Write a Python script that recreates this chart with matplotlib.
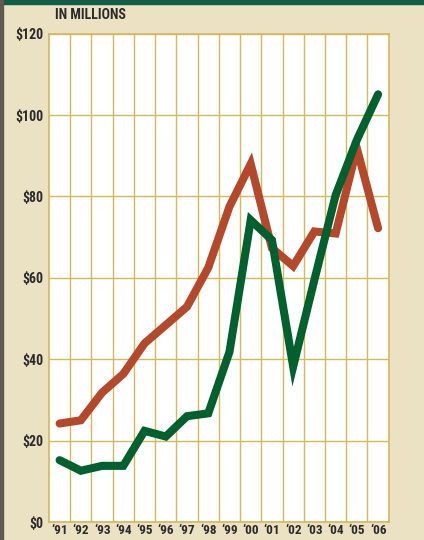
import matplotlib
matplotlib.use("Agg")
import matplotlib.pyplot as plt
import numpy as np

# data
years = ["\u201891", "\u201892", "\u201893", "\u201894", "\u201895", "\u201896", "\u201897", "\u201898",
         "\u201899", "\u201800", "\u201801", "\u201802", "\u201803", "\u201804", "\u201805", "\u201806"]
orange_vals = [24.2, 25.0, 31.8, 36.4, 43.9, 48.4, 52.9, 62.5,
               77.5, 88.0, 67.3, 62.9, 71.4, 70.9, 91.8, 72.2]
green_vals = [15.2, 12.6, 13.8, 13.8, 22.4, 21.0, 26.0, 26.7,
              41.8, 74.2, 69.3, 38.2, 59.5, 80.3, 93.9, 105.1]
y_ticks = [0, 20, 40, 60, 80, 100, 120]
y_labels = ["$0", "$20", "$40", "$60", "$80", "$100", "$120"]

fam = ["Roboto Condensed", "Liberation Sans", "DejaVu Sans"]
bg = "#ebe1c3"
gold = "#d6b85a"
txt = "#2b2b2b"

fig = plt.figure(figsize=(4.24, 5.40), dpi=100, facecolor=bg)
ax = fig.add_axes([49 / 424, 18 / 540, (388.7 - 49) / 424, (522 - 33.7) / 540])
ax.set_facecolor("white")

x = np.arange(len(years))
ax.plot(x, orange_vals, color="#b5482a", lw=5.8, solid_capstyle="round",
        solid_joinstyle="miter", zorder=3)
ax.plot(x, green_vals, color="#00602e", lw=5.8, solid_capstyle="round",
        solid_joinstyle="miter", zorder=4)

ax.set_xlim(-0.5, len(years) - 0.5)
ax.set_ylim(0, 120)
ax.set_yticks(y_ticks)
ax.set_yticklabels(y_labels)
ax.set_xticks(x)
ax.set_xticklabels(years)
ax.set_xticks(np.arange(0.5, len(years) - 1, 1), minor=True)

ax.grid(True, axis="x", which="minor", color=gold, lw=1.0, zorder=1)
ax.grid(True, axis="y", which="major", color=gold, lw=1.0, zorder=1)
ax.tick_params(axis="both", which="both", length=0)
ax.tick_params(axis="y", pad=4)
ax.tick_params(axis="x", pad=1.5)
for lab in ax.get_yticklabels():
    lab.set_fontfamily(fam)
    lab.set_fontweight("bold")
    lab.set_fontsize(10)
    lab.set_color(txt)
for lab in ax.get_xticklabels():
    lab.set_fontfamily(fam)
    lab.set_fontweight("bold")
    lab.set_fontsize(9.5)
    lab.set_color(txt)
for s in ax.spines.values():
    s.set_color(gold)
    s.set_linewidth(1.2)

fig.text(55 / 424, 1 - 15 / 540, "IN MILLIONS", fontfamily=fam, fontweight="bold",
         fontsize=10, color=txt, va="center", ha="left")

# frame strips at top and left
fig.patches.append(plt.Rectangle((0, 1 - 4 / 540), 1, 4 / 540, transform=fig.transFigure,
                                 color="#135c45", zorder=10))
fig.patches.append(plt.Rectangle((0, 0), 3 / 424, 1, transform=fig.transFigure,
                                 color="#5e5a52", zorder=10))

fig.savefig("out.png", dpi=100, facecolor=bg)
